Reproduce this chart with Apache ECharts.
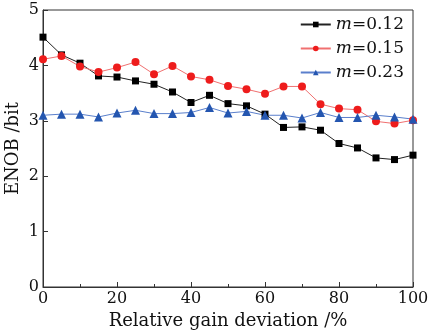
<!DOCTYPE html>
<html>
<head>
<meta charset="utf-8">
<script src="https://cdn.jsdelivr.net/npm/echarts@6/dist/echarts.min.js"></script>
<style>
  html, body { margin: 0; padding: 0; background: #fff; }
  #chart { width: 429px; height: 336px; }
</style>
</head>
<body>
<div id="chart"></div>
<script>
// gain deviation (%)
const gainDev = [0, 5, 10, 15, 20, 25, 30, 35, 40, 45, 50, 55, 60, 65, 70, 75, 80, 85, 90, 95, 100];
// ENOB (bit) for each modulation index
const enobM012 = [4.51, 4.19, 4.04, 3.81, 3.79, 3.72, 3.66, 3.52, 3.33, 3.46, 3.31, 3.27, 3.12, 2.88, 2.89, 2.83, 2.59, 2.51, 2.33, 2.30, 2.38];
const enobM015 = [4.11, 4.17, 3.98, 3.88, 3.96, 4.06, 3.84, 3.99, 3.80, 3.74, 3.63, 3.57, 3.49, 3.62, 3.62, 3.30, 3.22, 3.20, 2.99, 2.95, 3.01];
const enobM023 = [3.10, 3.12, 3.12, 3.07, 3.14, 3.19, 3.13, 3.13, 3.15, 3.24, 3.14, 3.17, 3.10, 3.10, 3.05, 3.15, 3.06, 3.06, 3.10, 3.07, 3.03];
const seriesNames = ["0.12", "0.15", "0.23"];

const FONT = "DejaVu Serif";
const axisColor = "#333";
const textColor = "#111";

function pairs(ys) {
  return gainDev.map((x, i) => [x, ys[i]]);
}

const chart = echarts.init(document.getElementById("chart"), null, { renderer: "canvas" });

const lineSeries = (name, data, symbol, size, markColor, lineColor) => ({
  name,
  type: "line",
  data: pairs(data),
  symbol,
  symbolSize: size,
  itemStyle: { color: markColor },
  lineStyle: { color: lineColor, width: 1 },
  emphasis: { disabled: true },
  animation: false
});

chart.setOption({
  backgroundColor: "#fff",
  textStyle: { fontFamily: FONT },
  grid: {
    left: 43, right: 16, top: 10, bottom: 49,
    outerBoundsMode: "none", containLabel: false,
    show: true, borderColor: axisColor, borderWidth: 1
  },
  legend: {
    orient: "vertical",
    right: 20,
    top: 11,
    itemWidth: 30,
    itemHeight: 7,
    itemGap: 7,
    data: seriesNames,
    formatter: n => `{i|m}=${n}`,
    textStyle: {
      fontFamily: FONT, fontSize: 17, color: textColor,
      rich: { i: { fontFamily: FONT, fontStyle: "italic", fontSize: 17, color: textColor } }
    }
  },
  xAxis: {
    type: "value",
    min: 0, max: 100, interval: 20,
    name: "Relative gain deviation /%",
    nameLocation: "middle",
    nameGap: 25,
    nameMoveOverlap: false,
    nameTextStyle: { fontFamily: FONT, fontSize: 18, color: textColor },
    axisLine: { lineStyle: { color: axisColor } },
    axisTick: { inside: true, length: 5, lineStyle: { color: axisColor } },
    minorTick: { show: true, splitNumber: 2, length: 3, lineStyle: { color: axisColor } },
    axisLabel: { fontFamily: FONT, fontSize: 16, color: textColor, margin: 4 },
    splitLine: { show: false }
  },
  yAxis: {
    type: "value",
    min: 0, max: 5, interval: 1,
    name: "ENOB /bit",
    nameLocation: "middle",
    nameGap: 21,
    nameMoveOverlap: false,
    nameTextStyle: { fontFamily: FONT, fontSize: 18, color: textColor },
    axisLine: { show: true, lineStyle: { color: axisColor } },
    axisTick: { show: true, inside: true, length: 5, lineStyle: { color: axisColor } },
    axisLabel: { fontFamily: FONT, fontSize: 16, color: textColor, margin: 4 },
    splitLine: { show: false }
  },
  series: [
    lineSeries(seriesNames[0], enobM012, "rect", 7, "#000", "#222"),
    lineSeries(seriesNames[1], enobM015, "circle", 8, "#ee1c1c", "#f07070"),
    lineSeries(seriesNames[2], enobM023, "triangle", 9, "#2456b0", "#5a7fcc")
  ]
});
</script>
</body>
</html>
